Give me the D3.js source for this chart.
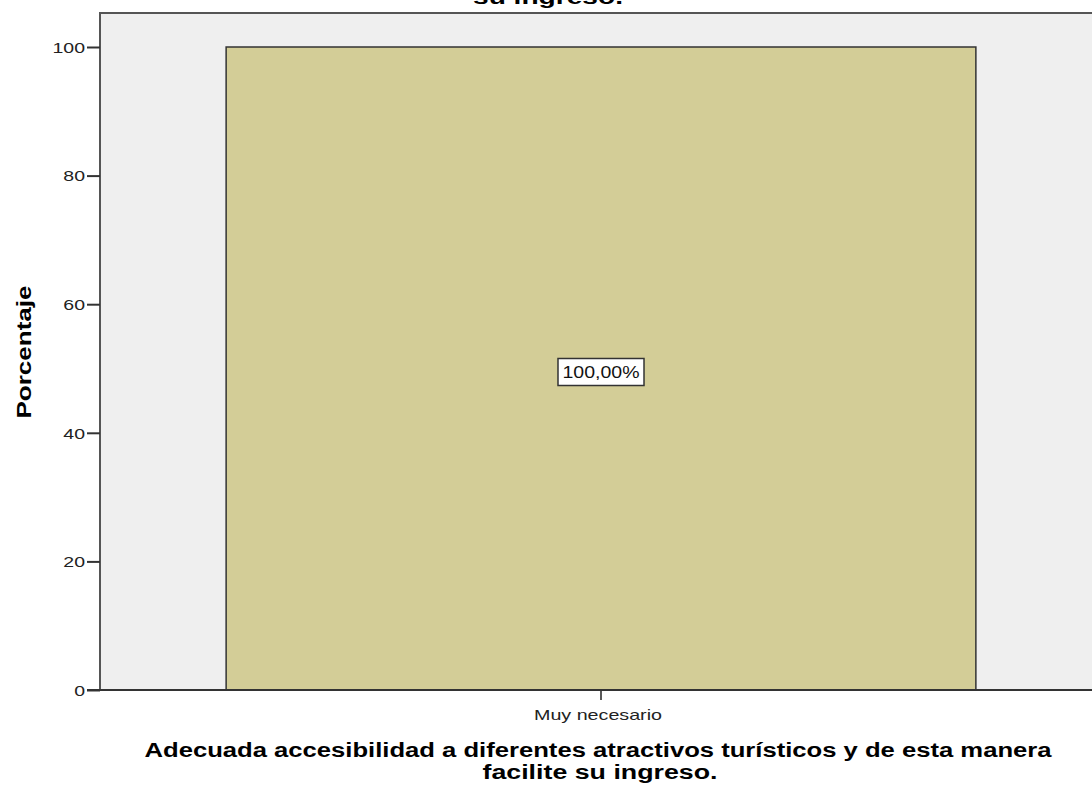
<!DOCTYPE html>
<html>
<head>
<meta charset="utf-8">
<script src="https://cdn.jsdelivr.net/npm/d3@7"></script>
<style>
  body { margin: 0; background: #fff; }
  text { font-family: "Liberation Sans", Arial, sans-serif; }
</style>
</head>
<body>
<svg id="chart" width="1092" height="801"></svg>
<script>
// data
var categories = ["Muy necesario"];
var percentages = [100];
var barLabels = ["100,00%"];
var yTicks = [0, 20, 40, 60, 80, 100];

var svg = d3.select('#chart');

var mLeft = 100, mRight = 1102, mTop = 13, mBottom = 690;
var stretch = 1.3; // the original picture is stretched sideways

var x = d3.scaleBand()
    .domain(categories)
    .range([mLeft, mRight])
    .padding(0.144);

var y = d3.scaleLinear()
    .domain([0, 100])
    .range([mBottom, 47]);

// title, cropped at top
svg.append('text')
    .attr('x', 548)
    .attr('y', 4)
    .attr('text-anchor', 'middle')
    .attr('textLength', 150)
    .attr('lengthAdjust', 'spacingAndGlyphs')
    .style('font-size', '20px')
    .style('font-weight', 'bold')
    .text('su ingreso.');

// plot background
svg.append('rect')
    .attr('x', mLeft)
    .attr('y', mTop)
    .attr('width', mRight - mLeft)
    .attr('height', mBottom - mTop)
    .style('fill', '#efefef')
    .style('stroke', '#555')
    .style('stroke-width', 2);

// bars
svg.selectAll('.bar')
    .data(percentages)
    .enter().append('rect')
    .attr('class', 'bar')
    .attr('x', function(d, i) { return x(categories[i]); })
    .attr('y', function(d) { return y(d); })
    .attr('width', x.bandwidth())
    .attr('height', function(d) { return y(0) - y(d); })
    .style('fill', '#d3cd97')
    .style('stroke', '#333')
    .style('stroke-width', 1.5);

// bar labels
percentages.forEach(function(d, i) {
    var cx = x(categories[i]) + x.bandwidth() / 2;
    var cy = y(d / 2) + 3;
    var g = svg.append('g');
    g.append('rect')
        .attr('x', cx - 43)
        .attr('y', cy - 13)
        .attr('width', 86)
        .attr('height', 27)
        .style('fill', '#fff')
        .style('stroke', '#333')
        .style('stroke-width', 1.5);
    g.append('text')
        .attr('x', cx)
        .attr('y', cy + 6)
        .attr('text-anchor', 'middle')
        .attr('textLength', 77)
        .attr('lengthAdjust', 'spacingAndGlyphs')
        .style('font-size', '16px')
        .style('fill', '#111')
        .text(barLabels[i]);
});

// y axis
var yAxis = d3.axisLeft(y)
    .tickValues(yTicks)
    .tickSize(13)
    .tickPadding(2)
    .tickFormat(d3.format('d'));

var yg = svg.append('g')
    .attr('transform', 'translate(' + mLeft + ',0)')
    .call(yAxis);
yg.select('.domain').remove();
yg.selectAll('line').style('stroke', '#333').style('stroke-width', 2);
yg.selectAll('text')
    .attr('dy', '0.35em')
    .attr('transform', function() {
        var xx = +d3.select(this).attr('x');
        return 'translate(' + xx + ',0) scale(' + stretch + ',1) translate(' + (-xx) + ',0)';
    })
    .style('font-family', '"Liberation Sans", Arial, sans-serif')
    .style('font-size', '15px')
    .style('fill', '#222');

// x axis
var xAxis = d3.axisBottom(x)
    .tickSize(10)
    .tickPadding(9);

var xg = svg.append('g')
    .attr('transform', 'translate(0,' + mBottom + ')')
    .call(xAxis);
xg.select('.domain').remove();
xg.selectAll('line').style('stroke', '#222').style('stroke-width', 1.5);
xg.selectAll('text')
    .attr('x', -3)
    .attr('textLength', 128)
    .attr('lengthAdjust', 'spacingAndGlyphs')
    .style('font-family', '"Liberation Sans", Arial, sans-serif')
    .style('font-size', '15px')
    .style('fill', '#222');

// bottom axis line drawn over
svg.append('line')
    .attr('x1', mLeft - 13).attr('x2', mRight)
    .attr('y1', mBottom).attr('y2', mBottom)
    .style('stroke', '#333')
    .style('stroke-width', 2);

// axis titles
svg.append('text')
    .attr('transform', 'translate(31,352) rotate(-90)')
    .attr('text-anchor', 'middle')
    .attr('textLength', 133)
    .attr('lengthAdjust', 'spacingAndGlyphs')
    .style('font-size', '20px')
    .style('font-weight', 'bold')
    .text('Porcentaje');

svg.append('text')
    .attr('x', 598)
    .attr('y', 757)
    .attr('text-anchor', 'middle')
    .attr('textLength', 907)
    .attr('lengthAdjust', 'spacingAndGlyphs')
    .style('font-size', '20px')
    .style('font-weight', 'bold')
    .text('Adecuada accesibilidad a diferentes atractivos turísticos y de esta manera');

svg.append('text')
    .attr('x', 600)
    .attr('y', 779)
    .attr('text-anchor', 'middle')
    .attr('textLength', 235)
    .attr('lengthAdjust', 'spacingAndGlyphs')
    .style('font-size', '20px')
    .style('font-weight', 'bold')
    .text('facilite su ingreso.');
</script>
</body>
</html>
